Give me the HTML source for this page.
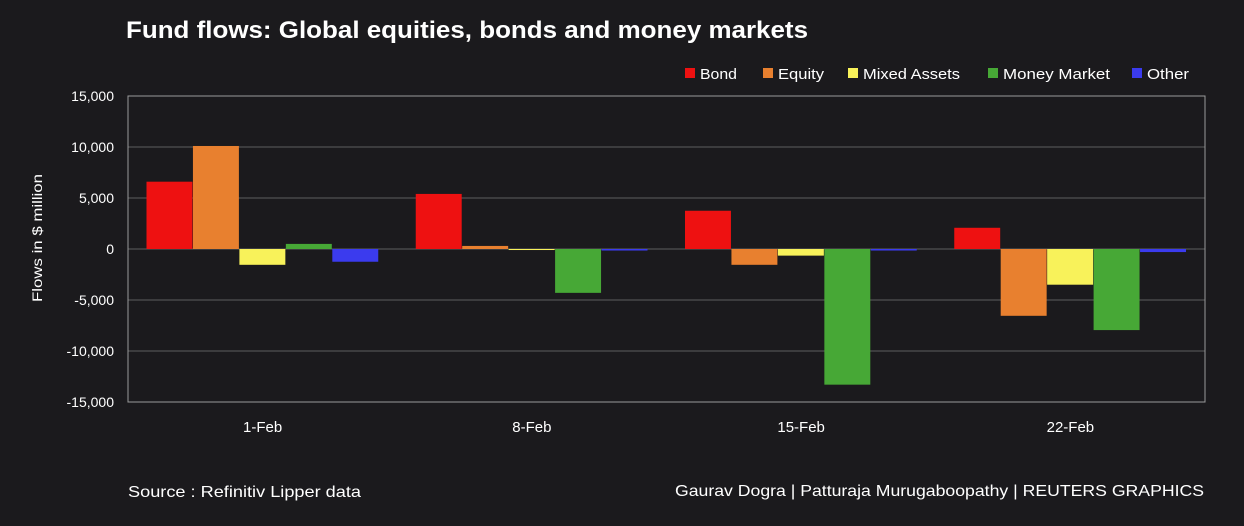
<!DOCTYPE html>
<html><head><meta charset="utf-8"><style>
body{margin:0;background:#1b1a1d;}
svg{display:block;font-family:"Liberation Sans",sans-serif;}
</style></head><body>
<svg id="c" width="1244" height="526">
<rect width="1244" height="526" fill="#1b1a1d"/>
<text x="126" y="38" fill="#fff" font-size="24" font-weight="bold" textLength="682" lengthAdjust="spacingAndGlyphs">Fund flows: Global equities, bonds and money markets</text>
<text x="128" y="497" fill="#fff" font-size="16" textLength="233" lengthAdjust="spacingAndGlyphs">Source : Refinitiv Lipper data</text>
<text x="675" y="496" fill="#fff" font-size="16" textLength="529" lengthAdjust="spacingAndGlyphs">Gaurav Dogra | Patturaja Murugaboopathy | REUTERS GRAPHICS</text>
<text transform="translate(42,238) rotate(-90)" fill="#fff" font-size="14" text-anchor="middle" textLength="128" lengthAdjust="spacingAndGlyphs">Flows in $ million</text>
<g id="grid"></g><g id="bars"></g><g id="axes"></g><g id="legend"></g>
</svg>
<script>
const categories=["1-Feb","8-Feb","15-Feb","22-Feb"];
const seriesNames=["Bond","Equity","Mixed Assets","Money Market","Other"];
const bond=[6600,5400,3750,2080];
const equity=[10100,300,-1550,-6550];
const mixed=[-1550,-100,-650,-3500];
const money=[500,-4300,-13300,-7950];
const other=[-1250,-150,-150,-300];
const yTicks=[15000,10000,5000,0,-5000,-10000,-15000];
const colors=["#ee1111","#e8802f","#f8f25a","#47a836","#3b3bee"];
const series=[bond,equity,mixed,money,other];
const NS="http://www.w3.org/2000/svg";
const L=128,R=1205,T=96,B=402;
const y=v=>T+(15000-v)*(B-T)/30000;
const band=(R-L)/categories.length, pad=18.5, bw=(band-2*pad)/5;
function el(t,a,p){const e=document.createElementNS(NS,t);for(const k in a)e.setAttribute(k,a[k]);p.appendChild(e);return e;}
const g=document.getElementById('grid'),bg=document.getElementById('bars'),ax=document.getElementById('axes'),lg=document.getElementById('legend');
yTicks.forEach(v=>{
 const l=el('line',{x1:L,x2:R,y1:y(v),y2:y(v),stroke:'#5e5e5e','stroke-width':1},g);
 
 
 const t=el('text',{x:114,y:y(v)+5,fill:'#fff','font-size':14,'text-anchor':'end'},ax);
 t.textContent=v.toLocaleString('en-US');
 
 
});
const fr=el('rect',{x:L,y:T,width:R-L,height:B-T,fill:'none',stroke:'#9a9a9a'},ax);


categories.forEach((c,i)=>{
 const x0=L+i*band+pad;
 series.forEach((s,j)=>{
  const v=s[i],ya=y(Math.max(v,0)),yb=y(Math.min(v,0));
  const r=el('rect',{x:x0+j*bw,y:ya,width:bw-0.5,height:Math.max(yb-ya,1),fill:colors[j]},bg);
  
  
 });
 const t=el('text',{x:L+i*band+band/2,y:432,fill:'#fff','font-size':15,'text-anchor':'middle'},ax);
 t.textContent=c;
 
 
});
const lx=[685,763,848,988,1132];
const lw=[37,46,97,107,42];
seriesNames.forEach((n,j)=>{
 const r=el('rect',{x:lx[j],y:68,width:10,height:10,fill:colors[j]},lg);
 
 
 const t=el('text',{x:lx[j]+15,y:79,fill:'#fff','font-size':15,textLength:lw[j],lengthAdjust:'spacingAndGlyphs'},lg);
 t.textContent=n;
 
 
});
</script>
</body></html>
